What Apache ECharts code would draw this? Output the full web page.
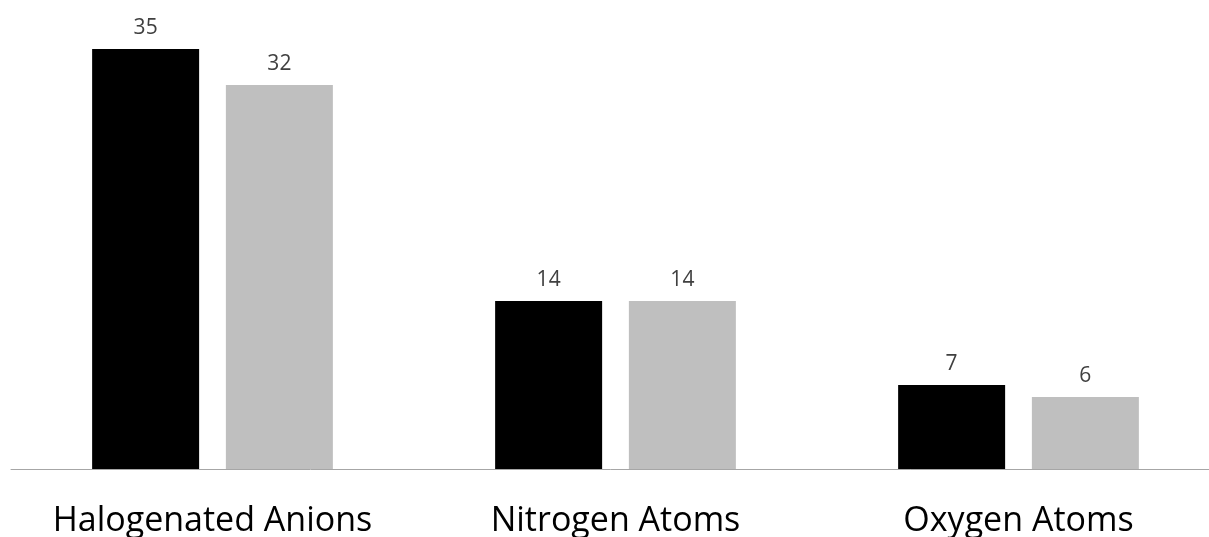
<!DOCTYPE html>
<html>
<head>
<meta charset="utf-8">
<script src="https://cdn.jsdelivr.net/npm/echarts@6/dist/echarts.min.js"></script>
<style>
  html, body { margin: 0; padding: 0; background: #ffffff; }
  #chart { width: 1209px; height: 537px; }
</style>
</head>
<body>
<div id="chart"></div>
<script>
// Counts per functional group, two series
const categories = ['Halogenated Anions', 'Nitrogen Atoms', 'Oxygen Atoms'];
const seriesA = [35, 14, 7];
const seriesB = [32, 14, 6];

const chart = echarts.init(document.getElementById('chart'));

const labelStyle = {
  show: true,
  position: 'top',
  distance: 10,
  color: '#404040',
  fontSize: 21,
  fontFamily: 'Open Sans'
};

chart.setOption({
  animation: false,
  backgroundColor: '#ffffff',
  // each category band is 403px wide; the last band runs past the right edge
  grid: {
    left: 11, top: 13, width: 1209, height: 456,
    containLabel: false,
    outerBoundsMode: 'none'
  },
  xAxis: {
    type: 'category',
    data: categories,
    axisLine: { show: true, lineStyle: { color: '#a6a6a6', width: 1 } },
    axisTick: { show: false },
    axisLabel: {
      color: '#000000',
      fontSize: 34,
      fontFamily: 'Open Sans',
      margin: 35,
      interval: 0
    }
  },
  yAxis: {
    type: 'value',
    min: 0,
    max: 38,
    show: false,
    splitLine: { show: false }
  },
  series: [
    {
      type: 'bar',
      data: seriesA,
      barWidth: 107,
      barGap: '25%',
      itemStyle: { color: '#000000' },
      label: labelStyle
    },
    {
      type: 'bar',
      data: seriesB,
      barWidth: 107,
      itemStyle: { color: '#bfbfbf' },
      label: labelStyle
    }
  ]
});
</script>
</body>
</html>
